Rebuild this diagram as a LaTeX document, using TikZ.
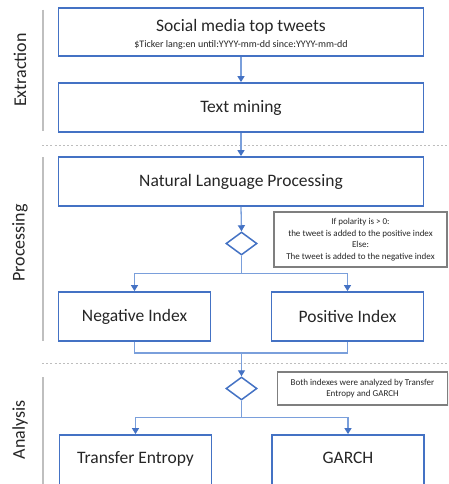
\documentclass[tikz,border=0pt]{standalone}
\usepackage{fontspec}
\setmainfont{Carlito}
\usetikzlibrary{arrows.meta,shapes.geometric,shadows}
\definecolor{boxblue}{HTML}{4472C4}
\definecolor{lineblue}{HTML}{7A9FDB}
\definecolor{sidegray}{HTML}{BFBFBF}
\definecolor{dashgray}{HTML}{BDBDBD}
\definecolor{notegray}{HTML}{7F7F7F}
\definecolor{txt}{HTML}{262626}
\begin{document}
\begin{tikzpicture}[x=1pt,y=-1pt,
  mainbox/.style={draw=boxblue,line width=1.8pt,fill=white,inner sep=0pt,
    font=\fontsize{17.5}{21}\selectfont,text=txt},
  widebox/.style={mainbox,minimum width=365pt,minimum height=49pt},
  halfbox/.style={mainbox,minimum width=152pt,minimum height=49pt},
  decision/.style={diamond,draw=boxblue,line width=1.5pt,fill=white,inner sep=0pt,
    minimum width=31pt,minimum height=23pt,aspect=1.35},
  notebox/.style={draw=notegray,line width=1.2pt,fill=white,inner sep=0pt,align=center,
    font=\fontsize{9}{11.5}\selectfont,text=txt,
    drop shadow={shadow xshift=1.2pt,shadow yshift=-1.2pt,fill=black!35,opacity=1}},
  conn/.style={draw=lineblue,line width=1.3pt,
    -{Triangle[width=7pt,length=6pt,color=boxblue]}},
  plain/.style={draw=lineblue,line width=1.3pt},
  sideline/.style={draw=sidegray,line width=1.3pt},
  sep/.style={draw=dashgray,line width=1pt,dash pattern=on 2pt off 2.2pt},
  sidelabel/.style={rotate=90,font=\fontsize{18}{21}\selectfont,text=txt,inner sep=0pt}
]
\clip (0,0) rectangle (448,484);
\fill[white] (0,0) rectangle (448,484);

% separators
\draw[sep] (42,145) -- (448,145);
\draw[sep] (42,363) -- (448,363);

% side lines
\draw[sideline] (43,10) -- (43,131);
\draw[sideline] (43,157) -- (43,341);
\draw[sideline] (43,377) -- (43,486);

% side labels
\node[sidelabel] (lext) at (20,70) {Extraction};
\node[sidelabel] (lproc) at (20,243) {Processing};
\node[sidelabel] (lana) at (20,430) {Analysis};

% boxes
\node[widebox,minimum height=48pt] (smt) at (241,32) {};
\node[anchor=base,font=\fontsize{17.5}{21}\selectfont,text=txt,inner sep=0pt] (smtt) at (241,32) {Social media top tweets};
\node[anchor=base,font=\fontsize{10}{12}\selectfont,text=txt,inner sep=0pt] (smts) at (241,47.5) {\$Ticker lang:en until:YYYY-mm-dd since:YYYY-mm-dd};

\node[widebox] (tm) at (241,107.5) {Text mining};
\node[widebox] (nlp) at (241,181.5) {Natural Language Processing};
\node[decision] (d1) at (241.5,243.5) {};
\node[halfbox] (neg) at (134.5,316.5) {Negative Index};
\node[halfbox] (pos) at (347.5,316.5) {Positive Index};
\node[decision] (d2) at (241.5,388.5) {};
\node[halfbox,minimum height=51pt] (te) at (135.5,460.5) {};
\node[anchor=base,font=\fontsize{17.5}{21}\selectfont,text=txt,inner sep=0pt] (tet) at (135.5,463) {Transfer Entropy};
\node[halfbox,minimum height=51pt] (garch) at (348,460.5) {};
\node[anchor=base,font=\fontsize{17.5}{21}\selectfont,text=txt,inner sep=0pt] (garcht) at (348,463) {GARCH};

% notes
\node[notebox,minimum width=173pt,minimum height=55pt] (n1) at (360.5,239.5)
  {If polarity is > 0:\\the tweet is added to the positive index\\Else:\\The tweet is added to the negative index};
\node[notebox,minimum width=170pt,minimum height=33pt] (n2) at (362.5,388.5)
  {Both indexes were analyzed by Transfer\\Entropy and GARCH};

% connectors
\draw[conn] (smt.south) -- (tm.north);
\draw[conn] (tm.south) -- (nlp.north);
\draw[conn] (nlp.south) -- (d1.north);
\draw[conn] (d1.south) -- ++(0,18) -| (neg.north);
\draw[conn] (d1.south) -- ++(0,18) -| (pos.north);
\draw[plain] (neg.south) -- ++(0,11) -| (d2.north);
\draw[conn] (pos.south) -- ++(0,11) -| (d2.north);
\draw[conn] (d2.south) -- ++(0,17) -| (te.north);
\draw[conn] (d2.south) -- ++(0,17) -| (garch.north);
\end{tikzpicture}
\end{document}
